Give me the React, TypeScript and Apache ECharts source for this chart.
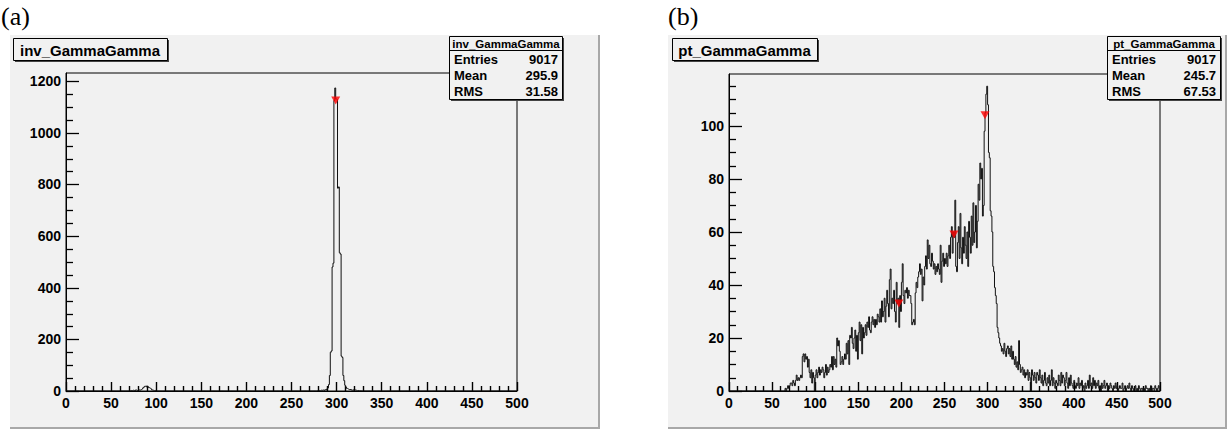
import React, { useEffect, useRef } from "react";
import * as echarts from "echarts";

const W = 1228;
const H = 431;

const invTitle = "inv_GammaGamma";
const ptTitle = "pt_GammaGamma";
const invStats: [string, string][] = [["Entries", "9017"], ["Mean", "295.9"], ["RMS", "31.58"]];
const ptStats: [string, string][] = [["Entries", "9017"], ["Mean", "245.7"], ["RMS", "67.53"]];

// inv_GammaGamma: bin width 1, 0..500 (bins not listed are empty)
const invBumpStart = 70;
const invBump = [1, 0, 2, 1, 3, 2, 1, 4, 2, 3, 5, 3, 4, 6, 8, 12, 15, 18, 20, 16, 19, 14, 12, 10, 8, 4, 3, 1, 2, 0];
const invPeakStart = 278;
const invPeak = [
  1, 0, 2, 1, 3, 2, 4, 3, 2, 5, 4, 8,
  12, 25, 60, 150, 155, 480, 495, 1125, 1173, 1130,
  1128, 785, 790, 535, 530, 135, 130, 60, 40, 22,
  15, 10, 8, 6, 5, 7, 4, 3, 5, 2,
  4, 3, 1, 2, 1, 0, 1,
];
const invMarkers = [[299, 1125]];

// pt_GammaGamma: bin width 1, 60..499
const ptStart = 60;
const ptCounts = [
  0, 0, 0, 0, 0, 1, 0, 1, 2, 1,
  2, 3, 3, 2, 4, 3, 2, 4, 6, 4,
  5, 4, 5, 6, 5, 13, 14, 11, 14, 12,
  13, 9, 12, 7, 5, 8, 3, 7, 5, 0,
  6, 8, 5, 7, 9, 6, 8, 7, 9, 8,
  5, 7, 10, 6, 9, 7, 8, 10, 9, 13,
  8, 13, 10, 12, 9, 20, 17, 19, 15, 10,
  11, 13, 10, 12, 14, 12, 18, 14, 19, 10,
  21, 20, 24, 18, 16, 20, 23, 15, 21, 12,
  22, 26, 19, 25, 14, 24, 20, 22, 25, 21,
  26, 24, 28, 23, 22, 26, 28, 25, 27, 24,
  27, 25, 29, 28, 26, 31, 26, 34, 28, 30,
  35, 26, 32, 38, 33, 28, 42, 46, 31, 35,
  33, 38, 30, 26, 41, 33, 35, 24, 36, 30,
  41, 48, 36, 33, 38, 37, 39, 35, 38, 36,
  36, 33, 25, 26, 27, 25, 37, 41, 39, 43,
  45, 48, 44, 46, 34, 43, 40, 47, 51, 46,
  57, 50, 55, 48, 47, 52, 49, 46, 48, 44,
  47, 45, 48, 46, 44, 55, 41, 49, 52, 47,
  50, 48, 52, 47, 51, 55, 50, 58, 62, 52,
  60, 58, 72, 47, 45, 56, 62, 50, 67, 54,
  48, 58, 52, 62, 55, 50, 60, 47, 64, 58,
  52, 66, 55, 71, 56, 60, 70, 54, 64, 78,
  72, 86, 80, 84, 66, 70, 98, 105, 112, 115,
  108, 90, 88, 68, 66, 60, 47, 45, 39, 36,
  33, 24, 22, 20, 18, 17, 15, 16, 14, 18,
  15, 13, 16, 17, 14, 16, 13, 17, 12, 15,
  12, 10, 13, 9, 11, 8, 19, 10, 7, 8,
  9, 6, 8, 5, 7, 6, 8, 4, 7, 5,
  0, 8, 6, 4, 7, 5, 3, 7, 6, 4,
  8, 5, 3, 6, 2, 4, 7, 3, 2, 5,
  3, 6, 2, 4, 8, 2, 5, 3, 1, 4,
  3, 2, 6, 4, 2, 7, 3, 6, 5, 2,
  4, 7, 3, 1, 5, 2, 6, 3, 2, 1,
  4, 2, 1, 3, 2, 5, 1, 3, 2, 4,
  1, 2, 0, 3, 1, 2, 4, 1, 6, 2,
  3, 1, 5, 2, 4, 1, 3, 2, 4, 1,
  2, 0, 3, 1, 2, 4, 1, 2, 3, 0,
  2, 1, 3, 2, 1, 0, 2, 1, 3, 1,
  2, 0, 1, 2, 1, 1, 3, 0, 1, 2,
  0, 1, 2, 1, 3, 1, 0, 2, 1, 0,
  1, 2, 0, 1, 0, 2, 1, 0, 1, 1,
  0, 1, 0, 2, 1, 1, 0, 1, 0, 2,
  0, 1, 1, 0, 2, 1, 0, 1, 2, 0,
];
const ptMarkers = [[197, 33], [261, 59], [297, 104]];

// y-axis tick layout: [axis max, major step, minor step]
const invYAxis = { max: 1231, major: 200, minor: 50 };
const ptYAxis = { max: 119.6, major: 20, minor: 5 };

const NBINS = 500;

function buildHist(segments: [number, number[]][]): number[][] {
  const counts: number[] = new Array(NBINS).fill(0);
  for (const [start, vals] of segments) {
    vals.forEach((v, i) => {
      counts[start + i] = v;
    });
  }
  const pts = counts.map((c, i) => [i, c]);
  pts.push([NBINS, counts[NBINS - 1]]);
  return pts;
}

function yTickData(cfg: { max: number; major: number; minor: number }): number[][] {
  const out: number[][] = [];
  for (let v = 0; v < cfg.max; v += cfg.minor) {
    const isMajor = Math.abs(v / cfg.major - Math.round(v / cfg.major)) < 1e-9;
    out.push([0, v, isMajor ? 13 : 7]);
  }
  return out;
}

const FONT = '"Liberation Sans", Arial, Helvetica, sans-serif';
const PAD = "#f1f1f1";

function makeXAxis(gridIndex: number) {
  return {
    gridIndex,
    type: "value",
    min: 0,
    max: 500,
    interval: 50,
    axisLine: { show: true, lineStyle: { color: "#000", width: 1 } },
    axisTick: { show: true, inside: true, length: 9, lineStyle: { color: "#000", width: 1.4 } },
    minorTick: { show: true, splitNumber: 5, length: 5, lineStyle: { color: "#000", width: 1.4 } },
    axisLabel: { color: "#000", fontWeight: "bold", fontSize: 14, fontFamily: FONT, margin: 5 },
    splitLine: { show: false },
  };
}

function makeYAxis(gridIndex: number, max: number, interval: number) {
  return {
    gridIndex,
    type: "value",
    min: 0,
    max,
    interval,
    axisLine: { show: true, lineStyle: { color: "#000", width: 1 } },
    axisTick: { show: false },
    minorTick: { show: false },
    axisLabel: {
      color: "#000",
      fontWeight: "bold",
      fontSize: 14,
      fontFamily: FONT,
      margin: 5,
      showMaxLabel: false,
      formatter: (v: number) => String(v),
    },
    splitLine: { show: false },
  };
}

function yTickSeries(axisIndex: number, data: number[][]) {
  return {
    type: "custom",
    coordinateSystem: "cartesian2d",
    xAxisIndex: axisIndex,
    yAxisIndex: axisIndex,
    data,
    silent: true,
    clip: false,
    z: 8,
    renderItem: (_params: any, api: any) => {
      const p = api.coord([0, api.value(1)]);
      const len = api.value(2);
      const y = Math.round(p[1]) + 0.5;
      return {
        type: "line",
        shape: { x1: p[0], y1: y, x2: p[0] + len, y2: y },
        style: { stroke: "#000", lineWidth: 1.3 },
      };
    },
  };
}

function boxWithShadow(x: number, y: number, w: number, h: number) {
  return [
    { type: "rect", z: 100, shape: { x: x + 2, y: y + 2, width: w, height: h }, style: { fill: "#444" } },
    { type: "rect", z: 101, shape: { x: x + 0.5, y: y + 0.5, width: w, height: h }, style: { fill: PAD, stroke: "#000", lineWidth: 1 } },
  ];
}

function titleBox(x: number, y: number, w: number, h: number, text: string) {
  return [
    ...boxWithShadow(x, y, w, h),
    {
      type: "text",
      z: 102,
      x: x + w / 2,
      y: y + h / 2 + 1,
      style: { text, fill: "#000", font: `bold 15px ${FONT}`, textAlign: "center", textVerticalAlign: "middle" },
    },
  ];
}

function statsBox(x: number, y: number, name: string, rows: [string, string][]) {
  const w = 113;
  const h = 63;
  const els: any[] = [...boxWithShadow(x, y, w, h)];
  els.push({
    type: "line",
    z: 102,
    shape: { x1: x, y1: y + 14.5, x2: x + w, y2: y + 14.5 },
    style: { stroke: "#000", lineWidth: 1 },
  });
  els.push({
    type: "text",
    z: 102,
    x: x + w / 2 + 0.5,
    y: y + 8,
    style: { text: name, fill: "#000", font: `bold 11.5px ${FONT}`, textAlign: "center", textVerticalAlign: "middle" },
  });
  rows.forEach(([k, v], i) => {
    const cy = y + 23.5 + i * 16;
    els.push({
      type: "text",
      z: 102,
      x: x + 5,
      y: cy,
      style: { text: k, fill: "#000", font: `bold 13px ${FONT}`, textAlign: "left", textVerticalAlign: "middle" },
    });
    els.push({
      type: "text",
      z: 102,
      x: x + w - 4,
      y: cy,
      style: { text: v, fill: "#000", font: `bold 13px ${FONT}`, textAlign: "right", textVerticalAlign: "middle" },
    });
  });
  return els;
}

export default function App() {
  const ref = useRef<HTMLDivElement>(null);

  useEffect(() => {
    if (!ref.current) return;
    const chart = echarts.init(ref.current, undefined, { renderer: "svg" });
    const invData = buildHist([
      [invBumpStart, invBump],
      [invPeakStart, invPeak],
    ]);
    const ptData = buildHist([[ptStart, ptCounts]]);

    const option: any = {
      animation: false,
      backgroundColor: "transparent",
      grid: [
        { left: 66, top: 73, width: 451, height: 318, show: true, borderColor: "#000", borderWidth: 1 },
        { left: 729, top: 74, width: 431, height: 317, show: true, borderColor: "#000", borderWidth: 1 },
      ],
      xAxis: [makeXAxis(0), makeXAxis(1)],
      yAxis: [makeYAxis(0, invYAxis.max, invYAxis.major), makeYAxis(1, ptYAxis.max, ptYAxis.major)],
      series: [
        {
          type: "line",
          xAxisIndex: 0,
          yAxisIndex: 0,
          data: invData,
          step: "end",
          symbol: "none",
          lineStyle: { color: "#111", width: 1 },
          z: 3,
        },
        {
          type: "scatter",
          xAxisIndex: 0,
          yAxisIndex: 0,
          data: invMarkers,
          symbol: "triangle",
          symbolRotate: 180,
          symbolSize: [9, 8],
          itemStyle: { color: "#ff0000" },
          z: 10,
        },
        {
          type: "line",
          xAxisIndex: 1,
          yAxisIndex: 1,
          data: ptData,
          step: "end",
          symbol: "none",
          lineStyle: { color: "#111", width: 1 },
          z: 3,
        },
        {
          type: "scatter",
          xAxisIndex: 1,
          yAxisIndex: 1,
          data: ptMarkers,
          symbol: "triangle",
          symbolRotate: 180,
          symbolSize: [9, 8],
          itemStyle: { color: "#ff0000" },
          z: 10,
        },
        yTickSeries(0, yTickData(invYAxis)),
        yTickSeries(1, yTickData(ptYAxis)),
      ],
      graphic: [
        { type: "text", x: 1, y: 16, style: { text: "(a)", fill: "#000", font: '26px "Liberation Serif", "Times New Roman", serif', textVerticalAlign: "middle" } },
        { type: "text", x: 668, y: 16, style: { text: "(b)", fill: "#000", font: '26px "Liberation Serif", "Times New Roman", serif', textVerticalAlign: "middle" } },
        ...titleBox(13, 38, 154, 22, invTitle),
        ...titleBox(672, 38, 145, 22, ptTitle),
        ...statsBox(449, 36, invTitle, invStats),
        ...statsBox(1107, 36, ptTitle, ptStats),
      ],
    };
    chart.setOption(option);
    return () => chart.dispose();
  }, []);

  return (
    <div style={{ position: "absolute", left: 0, top: 0, width: W, height: H, background: "#fff", overflow: "hidden" }}>
      <div style={{ position: "absolute", left: 10, top: 35, width: 588, height: 392, background: PAD, borderRight: "2px solid #a8a8a8", borderBottom: "2px solid #a8a8a8" }} />
      <div style={{ position: "absolute", left: 668, top: 35, width: 557, height: 392, background: PAD, borderRight: "2px solid #a8a8a8", borderBottom: "2px solid #a8a8a8" }} />
      <div ref={ref} style={{ position: "absolute", left: 0, top: 0, width: W, height: H }} />
    </div>
  );
}
